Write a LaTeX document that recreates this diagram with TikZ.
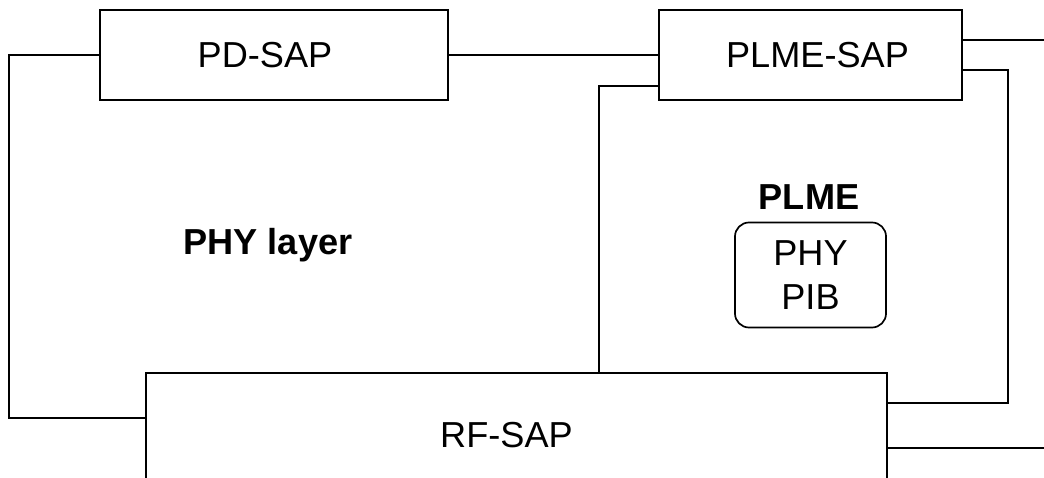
\documentclass[tikz,border=0pt]{standalone}
\usepackage{fontspec}
\setmainfont{Liberation Sans}
\usetikzlibrary{calc}
\tikzset{%
  sapbox/.style={draw,line width=1.2pt,minimum height=2.25cm,inner sep=0},
  pibbox/.style={draw,line width=1.2pt,rounded corners=10pt,minimum width=3.775cm,minimum height=2.625cm,align=center,inner sep=0},
  lbl/.style={font=\fontsize{25.7}{31}\selectfont\bfseries},
  link/.style={draw,line width=1.2pt}
}

\begin{document}
\begin{tikzpicture}[x=0.025cm,y=-0.025cm,font=\fontsize{25.7}{31}\selectfont]
    \useasboundingbox (0,0) rectangle (1044,478);
    \clip (0,0) rectangle (1044,478);
    \path
      (274,55) node[sapbox,minimum width=8.7cm] (pd) {\hspace*{-0.45cm}PD-SAP}
      (810.5,55) node[sapbox,minimum width=7.575cm] (plme) {PLME-SAP\hspace*{-0.35cm}}
      (516.5,435) node[sapbox,minimum width=18.525cm,minimum height=3.1cm] (rf) {\hspace*{-0.5cm}RF-SAP}
      (810.5,275) node[pibbox] (pib) {PHY\\PIB}
      (268,245) node[lbl] (phy) {PHY layer}
      (809,197) node[lbl] (plmelbl) {PLME};
    \coordinate (topout) at (1050,40);
    \coordinate (rfout) at (1050,448);
    \draw[link] (pd.west) -- ++(-90,0) |- ($(rf.west)+(0,-17)$);
    \draw[link] (pd.east) -- (plme.west);
    \draw[link] ($(plme.east)+(0,-15)$) -- (topout);
    \draw[link] ($(plme.east)+(0,15)$) -- ++(45,0) |- ($(rf.east)+(0,-32)$);
    \draw[link] ($(plme.west)+(0,31)$) -| ($(rf.north west)+(454,0)$);
    \draw[link] ($(rf.east)+(0,13)$) -- (rfout);
  \end{tikzpicture}
\end{document}
